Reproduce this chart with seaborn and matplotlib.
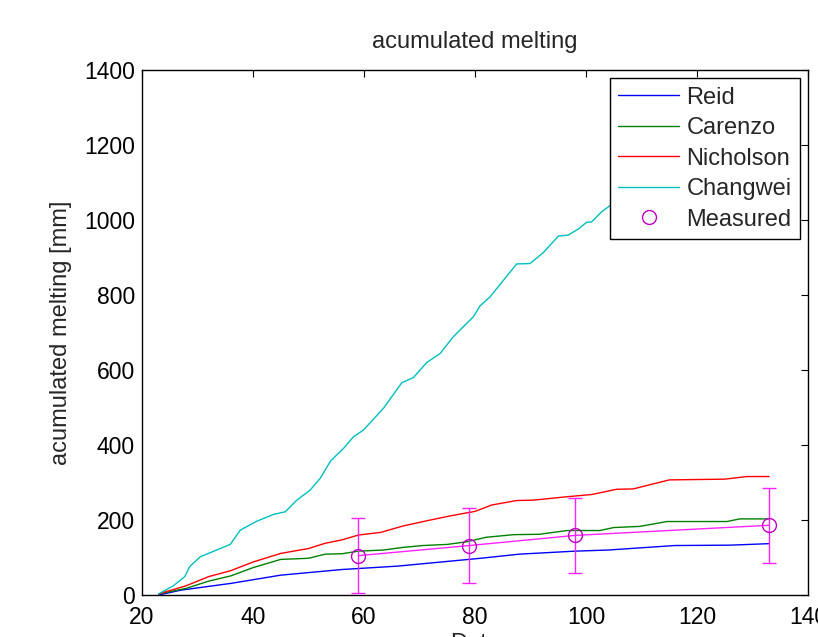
import matplotlib
matplotlib.use("Agg")
import matplotlib.pyplot as plt
import seaborn as sns

# model curves (day, accumulated melting in mm)
reid_x = [23, 27, 36, 45, 56, 66, 81, 88, 98, 104, 116, 126, 133]
reid_y = [0, 13, 31, 53, 68, 77, 98, 109, 117, 120, 132, 133, 137]

carenzo_x = [23, 28, 32, 36, 40, 45, 50, 53, 56, 59, 63.5, 67, 70.6, 75, 78.5,
             82, 87, 91.6, 96.6, 102.5, 105, 109.7, 114.6, 125.4, 127.7, 133]
carenzo_y = [3, 18, 37, 51, 73, 95, 98, 109, 110, 117, 120, 127, 132, 135, 142,
             154, 161, 162, 172, 172, 180, 183, 196, 196, 203, 203]

nicholson_x = [23, 28, 32, 36, 40, 45, 50, 53, 56, 59, 63, 67, 71, 75.5, 80,
               83, 87.5, 90.5, 96.5, 101, 105.5, 108.5, 115, 125, 129, 133]
nicholson_y = [3, 25, 49, 65, 88, 111, 124, 138, 147, 160, 167, 184, 197, 211, 223,
               240, 252, 253, 262, 268, 282, 283, 307, 309, 316, 316]

changwei_x = [23, 25.6, 27.7, 28.6, 30.5, 32.3, 35.9, 37.7, 40.7, 43.7, 45.8, 47.9,
              50.3, 52.1, 54, 56.3, 58.1, 59.9, 63.5, 66.8, 68.9, 71.3, 73.7, 76.1,
              79.7, 80.9, 82.7, 87.5, 89.9, 92.3, 95, 96.8, 98.6, 100.1, 101, 102.8,
              110, 118, 126, 133]
changwei_y = [3, 24, 49, 76, 102, 113, 135, 173, 197, 215, 222, 253,
              280, 311, 358, 391, 422, 440, 498, 566, 580, 620, 644, 689,
              742, 771, 795, 883, 884, 913, 957, 960, 976, 994, 995, 1022,
              1100, 1180, 1250, 1310]

# measured values with error bars
meas_x = [59, 79, 98, 133]
meas_y = [105, 132, 159, 186]
meas_err = [100, 100, 100, 100]

sns.set_style("white")
plt.rcParams["font.family"] = ["Liberation Sans", "DejaVu Sans"]

fig, ax = plt.subplots(figsize=(8.18, 6.37), dpi=100)
fig.subplots_adjust(left=0.1736, right=0.9878, bottom=0.0659, top=0.890)

sns.lineplot(x=reid_x, y=reid_y, color="#0000ff", lw=1, label="Reid", ax=ax)
sns.lineplot(x=carenzo_x, y=carenzo_y, color="#008000", lw=1, label="Carenzo", ax=ax)
sns.lineplot(x=nicholson_x, y=nicholson_y, color="#ff0000", lw=1, label="Nicholson", ax=ax)
sns.lineplot(x=changwei_x, y=changwei_y, color="#00bfbf", lw=1, label="Changwei", ax=ax)

ax.errorbar(meas_x, meas_y, yerr=meas_err, color="#ff22ff", lw=1, capsize=5,
            capthick=1, zorder=3)
ax.plot(meas_x, meas_y, "o", mfc="none", mec="#bf00bf", ms=10, mew=1,
        label="Measured", zorder=4)

ax.set_xlim(20, 140)
ax.set_ylim(0, 1400)
ax.set_xticks(range(20, 141, 20))
ax.set_yticks(range(0, 1401, 200))

ax.set_title("acumulated melting", fontsize=17, pad=16)
ax.set_xlabel("Date", fontsize=17, labelpad=3)
ax.set_ylabel("acumulated melting [mm]", fontsize=17, labelpad=9)

ax.tick_params(direction="in", length=5, width=0.8, top=True, right=True,
               labelsize=16.5, colors="black")
ax.tick_params(axis="x", pad=8)
ax.tick_params(axis="y", pad=5)
for s in ax.spines.values():
    s.set_color("black")
    s.set_linewidth(1)

leg = ax.legend(loc="upper right", fontsize=17, frameon=True, fancybox=False,
                framealpha=1, edgecolor="black", borderaxespad=0.35,
                handlelength=2.6, handletextpad=0.3, labelspacing=0.36,
                borderpad=0.35)
leg.get_frame().set_linewidth(1)
leg.set_zorder(10)

fig.savefig("out.png", dpi=100)
